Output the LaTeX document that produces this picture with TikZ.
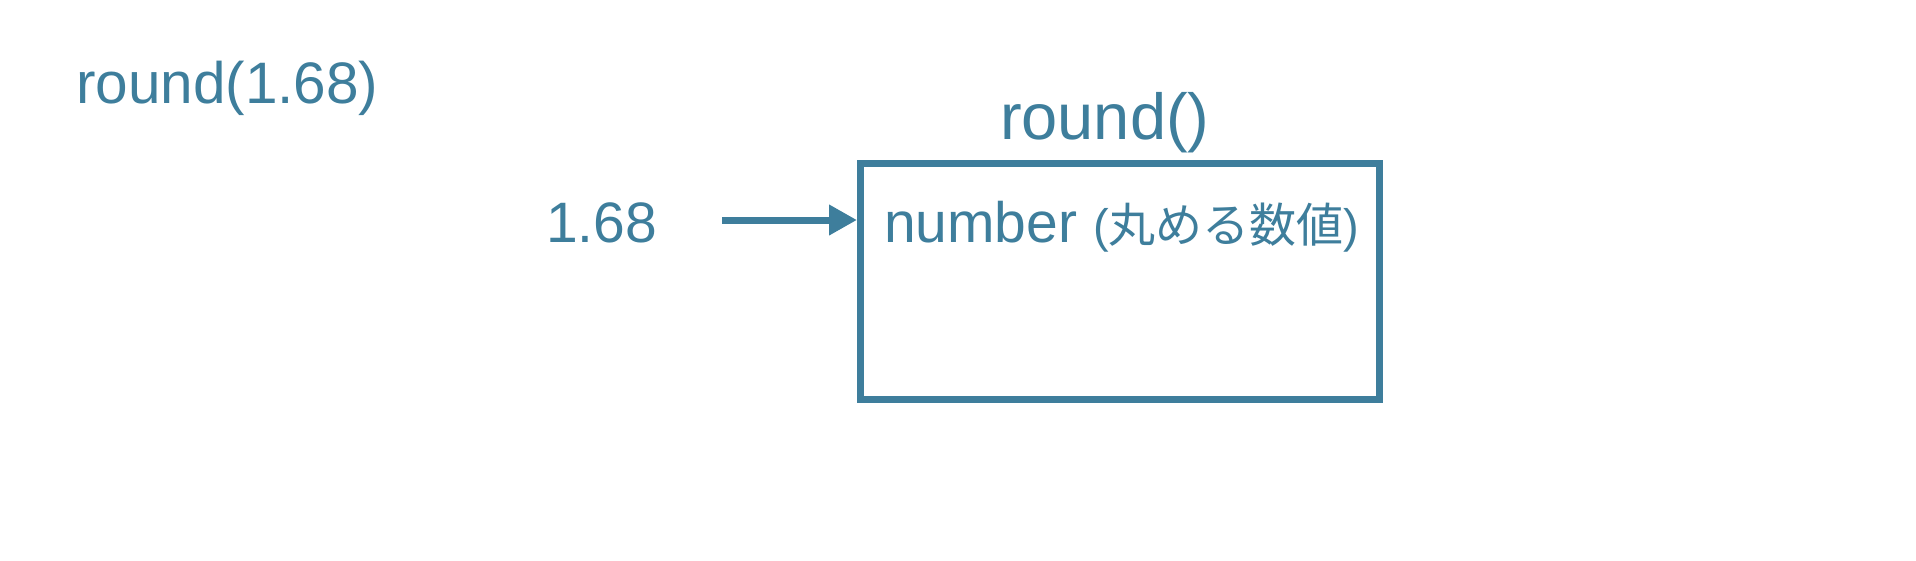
\documentclass[tikz,border=0pt]{standalone}
\usepackage{fontspec}
\setmainfont{Liberation Sans}
\newfontfamily\jpfont{Noto Sans CJK JP}
\usetikzlibrary{arrows.meta}
\definecolor{ink}{RGB}{62,126,156}
\tikzset{
  txt/.style={inner sep=0pt, outer sep=0pt, anchor=base west, text=ink},
  funcbox/.style={draw=ink, line width=7pt, minimum width=519pt, minimum height=236pt, inner sep=0pt},
  arr/.style={draw=ink, line width=7pt, -{Triangle[length=28pt,width=29pt]}}
}
\newcommand{\fs}[1]{\fontsize{#1pt}{#1pt}\selectfont}
\begin{document}
\begin{tikzpicture}[x=1pt,y=-1pt]
\useasboundingbox[fill=white] (0,0) rectangle (1916,560);
\node[txt] (call) at (76,103) {\fs{58.5}round(1.68)};
\node[txt] (fname) at (1000,139) {\fs{65}round()};
\node[funcbox] (box) at (1120,281.5) {};
\node[txt] (num) at (546,242) {\fs{57}1.68};
\node[txt] (param) at (884,242) {\fs{57}number {\fs{47}(\jpfont 丸める数値\rmfamily)}};
\coordinate (a0) at (722,220);
\draw[arr] (a0) -- (a0 -| box.west);
\end{tikzpicture}
\end{document}
